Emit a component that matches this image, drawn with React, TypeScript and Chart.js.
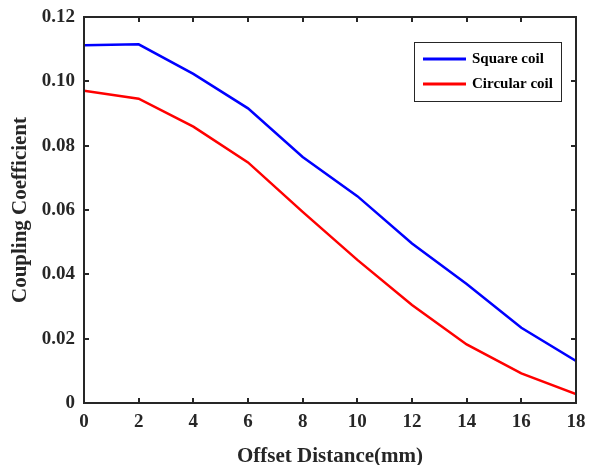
import React, { useEffect, useRef } from "react";
import { Chart, registerables } from "chart.js";

Chart.register(...registerables);

const offsets = [0, 2, 4, 6, 8, 10, 12, 14, 16, 18];
const squareCoil = [0.1112, 0.1115, 0.1023, 0.0916, 0.0765, 0.0643, 0.0496, 0.037, 0.0234, 0.0131];
const circularCoil = [0.0971, 0.0946, 0.0859, 0.0748, 0.0594, 0.0445, 0.0305, 0.0182, 0.0092, 0.0028];
const seriesLabels = ["Square coil", "Circular coil"];
const seriesColors = ["#0000ff", "#ff0000"];

const FONT = "'Liberation Serif', 'Times New Roman', serif";
const AXIS = "#262626";

const framePlugin = {
  id: "frame",
  afterDraw(chart: any) {
    const { ctx, chartArea: a, scales } = chart;
    ctx.save();
    ctx.strokeStyle = AXIS;
    ctx.lineWidth = 2;
    ctx.strokeRect(a.left, a.top, a.right - a.left, a.bottom - a.top);
    const len = 5;
    ctx.beginPath();
    scales.x.ticks.forEach((_t: any, i: number) => {
      const px = Math.round(scales.x.getPixelForTick(i));
      ctx.moveTo(px, a.bottom);
      ctx.lineTo(px, a.bottom - len);
      ctx.moveTo(px, a.top);
      ctx.lineTo(px, a.top + len);
    });
    scales.y.ticks.forEach((_t: any, i: number) => {
      const py = Math.round(scales.y.getPixelForTick(i));
      ctx.moveTo(a.left, py);
      ctx.lineTo(a.left + len, py);
      ctx.moveTo(a.right, py);
      ctx.lineTo(a.right - len, py);
    });
    ctx.stroke();

    // legend box
    const bx = a.right - 162;
    const by = a.top + 25;
    const bw = 147;
    const bh = 59;
    ctx.fillStyle = "#ffffff";
    ctx.fillRect(bx, by, bw, bh);
    ctx.strokeStyle = "#262626";
    ctx.lineWidth = 1;
    ctx.strokeRect(bx + 0.5, by + 0.5, bw, bh);
    ctx.font = `bold 15px ${FONT}`;
    ctx.textBaseline = "middle";
    ctx.textAlign = "left";
    chart.data.datasets.forEach((ds: any, i: number) => {
      const y = by + 17 + i * 25;
      ctx.strokeStyle = ds.borderColor;
      ctx.lineWidth = 3;
      ctx.beginPath();
      ctx.moveTo(bx + 9, y);
      ctx.lineTo(bx + 52, y);
      ctx.stroke();
      ctx.fillStyle = "#000000";
      ctx.fillText(ds.label, bx + 58, y);
    });
    ctx.restore();
  },
};

export default function App() {
  const ref = useRef<HTMLCanvasElement>(null);
  useEffect(() => {
    document.body.style.margin = "0";
    const chart = new Chart(ref.current!, {
      type: "line",
      data: {
        datasets: [squareCoil, circularCoil].map((vals, k) => ({
          label: seriesLabels[k],
          data: offsets.map((x, i) => ({ x, y: vals[i] })),
          borderColor: seriesColors[k],
          backgroundColor: seriesColors[k],
          borderWidth: 2.5,
          pointRadius: 0,
          tension: 0,
        })),
      },
      options: {
        animation: false,
        responsive: false,
        maintainAspectRatio: false,
        layout: { padding: { top: 17, right: 13, left: 0, bottom: 0 } },
        plugins: { legend: { display: false }, tooltip: { enabled: false } },
        scales: {
          x: {
            type: "linear",
            min: 0,
            max: 18,
            ticks: { stepSize: 2, color: "#262626", font: { family: FONT, size: 19, weight: "bold" }, padding: 8, maxRotation: 0 },
            grid: { display: false, drawTicks: false },
            border: { display: false },
            title: { display: true, text: "Offset Distance(mm)", color: "#262626", font: { family: FONT, size: 21, weight: "bold" }, padding: { top: 0, bottom: -4 } },
            afterFit: (s: any) => { s.height = 62; s.paddingLeft = 0; s.paddingRight = 0; },
          },
          y: {
            min: 0,
            max: 0.12,
            ticks: {
              stepSize: 0.02,
              color: "#262626",
              font: { family: FONT, size: 19, weight: "bold" },
              padding: 9,
              callback: (v: any) => (v === 0 ? "0" : Number(v).toFixed(2)),
            },
            grid: { display: false, drawTicks: false },
            border: { display: false },
            title: { display: true, text: "Coupling Coefficient", color: "#262626", font: { family: FONT, size: 21, weight: "bold" }, padding: { top: 8, bottom: 0 } },
            afterFit: (s: any) => { s.width = 84; s.paddingTop = 0; s.paddingBottom = 0; },
          },
        },
      },
      plugins: [framePlugin],
    });
    return () => chart.destroy();
  }, []);
  return (
    <div style={{ width: 589, height: 465, background: "#fff" }}>
      <canvas ref={ref} width={589} height={465} style={{ display: "block" }} />
    </div>
  );
}
